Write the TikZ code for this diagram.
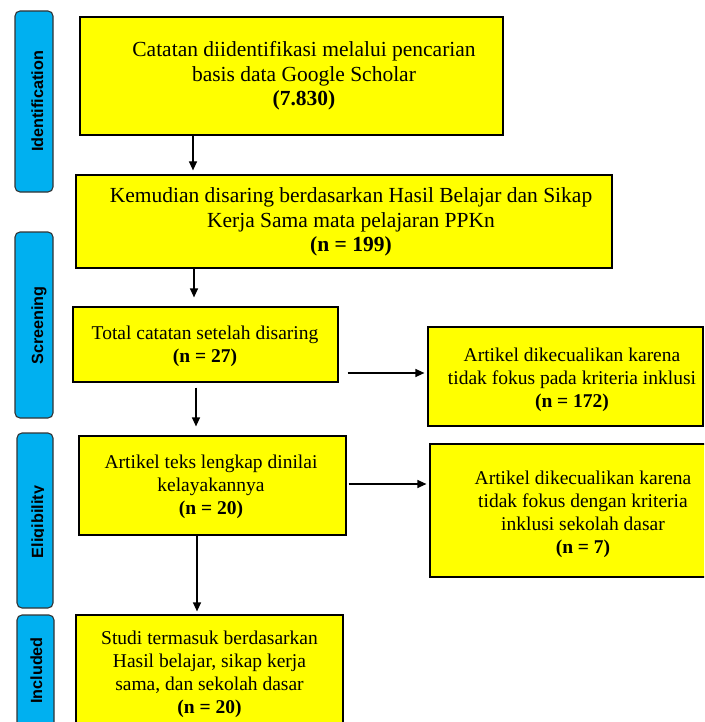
\documentclass[tikz,border=0pt]{standalone}
\usepackage{fontspec}
\setmainfont{Liberation Serif}
\newfontfamily\lblfont{Liberation Sans}
\usetikzlibrary{arrows.meta}
\definecolor{boxyellow}{HTML}{FFFF00}
\definecolor{sideblue}{HTML}{00B0F0}
\definecolor{sideedge}{HTML}{333333}
\begin{document}
\begin{tikzpicture}[x=1pt,y=-1pt,
  box/.style={draw=black, line width=1.2pt, fill=boxyellow, inner sep=0pt},
  side/.style={draw=sideedge, line width=1.1pt, fill=sideblue, rounded corners=5pt, inner sep=0pt},
  sidetxt/.style={rotate=90, anchor=base, inner sep=0pt, font=\lblfont\bfseries\fontsize{16.2}{19}\selectfont},
  bigtxt/.style={align=center, inner sep=0pt, font=\fontsize{21.5}{24.5}\selectfont},
  txt/.style={align=center, inner sep=0pt, font=\fontsize{19.5}{23}\selectfont},
  arr/.style={line width=1.2pt, -{Triangle[length=9pt,width=8pt]}}]
\useasboundingbox (0,0) rectangle (704,722);
\clip (0,0) rectangle (704,722);

% side labels
\node[side, minimum width=38pt, minimum height=181pt] (s1) at (34,101.5) {};
\node[side, minimum width=38pt, minimum height=186pt] (s2) at (34,325) {};
\node[side, minimum width=36pt, minimum height=175pt] (s3) at (35,520.5) {};
\node[side, minimum width=37pt, minimum height=125pt] (s4) at (35.5,677.5) {};
\node[sidetxt] (l1) at (43,101.5) {Identification};
\node[sidetxt] (l2) at (43,325.5) {Screening};
\begin{scope}
\clip (0,433) rectangle (43.5,608);
\node[sidetxt] (l3) at (43,522) {Eligibility};
\end{scope}
\node[sidetxt] (l4) at (42,670.5) {Included};

% boxes
\node[box, minimum width=423pt, minimum height=118pt] (b1) at (291.5,76) {};
\node[box, minimum width=536pt, minimum height=93pt] (b2) at (344,221.5) {};
\node[box, minimum width=265pt, minimum height=75pt] (b3) at (205.5,344.5) {};
\node[box, minimum width=275pt, minimum height=99pt] (b4) at (565.5,376.5) {};
\node[box, minimum width=267pt, minimum height=99pt] (b5) at (212.5,485.5) {};
\node[box, minimum width=278pt, minimum height=133pt] (b6) at (569,510.5) {};
\node[box, minimum width=267pt, minimum height=125pt] (b7) at (209.5,677.5) {};

% texts
\node[bigtxt] (t1) at (304,76) {Catatan diidentifikasi melalui pencarian\\basis data Google Scholar\\\textbf{(7.830)}};
\node[bigtxt] (t2) at (351,222) {Kemudian disaring berdasarkan Hasil Belajar dan Sikap\\Kerja Sama mata pelajaran PPKn\\\textbf{(n = 199)}};
\node[txt] (t3) at (205,346) {Total catatan setelah disaring\\\textbf{(n = 27)}};
\node[txt] (t4) at (572,380) {Artikel dikecualikan karena\\tidak fokus pada kriteria inklusi\\\textbf{(n = 172)}};
\node[txt] (t5) at (211,487) {Artikel teks lengkap dinilai\\kelayakannya\\\textbf{(n = 20)}};
\node[txt] (t6) at (583,514) {Artikel dikecualikan karena\\tidak fokus dengan kriteria\\inklusi sekolah dasar\\\textbf{(n = 7)}};
\node[txt] (t7) at (209.5,674) {Studi termasuk berdasarkan\\Hasil belajar, sikap kerja\\sama, dan sekolah dasar\\\textbf{(n = 20)}};

% connectors
\draw[arr] ([xshift=-98.5pt]b1.south) -- ([xshift=-151pt,yshift=4pt]b2.north);
\draw[arr] ([xshift=-150pt]b2.south) -- ([xshift=-11.5pt,yshift=9pt]b3.north);
\draw[arr] ([xshift=-9.5pt,yshift=-5pt]b3.south) -- ([xshift=-16.5pt,yshift=9pt]b5.north);
\draw[arr] ([xshift=9pt,yshift=-28.5pt]b3.east) -- ([xshift=-3pt,yshift=3.5pt]b4.west);
\draw[arr] ([xshift=2pt,yshift=1.5pt]b5.east) -- ([xshift=-3pt,yshift=26.5pt]b6.west);
\draw[arr] ([xshift=-15.5pt]b5.south) -- ([xshift=-12.5pt,yshift=3pt]b7.north);
\end{tikzpicture}
\end{document}
